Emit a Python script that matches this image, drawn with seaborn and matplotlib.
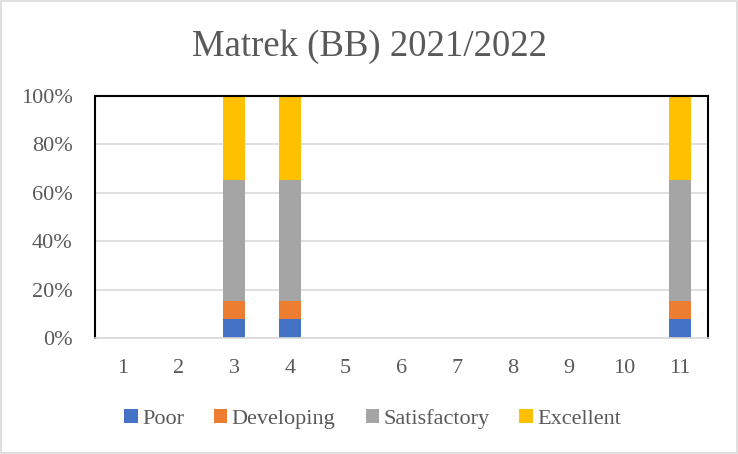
import pandas as pd
import numpy as np
import matplotlib
matplotlib.use("Agg")
import matplotlib.pyplot as plt
import seaborn as sns
from matplotlib.patches import Patch

# Share of students in each rating band, per item (out of 26)
items = [str(i) for i in range(1, 12)]
poor = [0, 0, 2, 2, 0, 0, 0, 0, 0, 0, 2]
developing = [0, 0, 2, 2, 0, 0, 0, 0, 0, 0, 2]
satisfactory = [0, 0, 13, 13, 0, 0, 0, 0, 0, 0, 13]
excellent = [0, 0, 9, 9, 0, 0, 0, 0, 0, 0, 9]
levels = ["Poor", "Developing", "Satisfactory", "Excellent"]
colors = ["#4472C4", "#ED7D31", "#A5A5A5", "#FFC000"]

df = pd.DataFrame({"item": items, "Poor": poor, "Developing": developing,
                   "Satisfactory": satisfactory, "Excellent": excellent})
totals = df[levels].sum(axis=1).replace(0, np.nan)
pct = df[levels].div(totals, axis=0).fillna(0) * 100
cum = pct.cumsum(axis=1)
cum["item"] = df["item"]

sns.set_theme(style="white")
plt.rcParams["font.family"] = ["Liberation Serif", "DejaVu Serif"]
text_col = "#595959"

fig = plt.figure(figsize=(7.38, 4.54), dpi=100)
ax = fig.add_axes([0.1287, 0.2555, 0.8306, 0.533])

# draw the stack from the top layer down so each shorter bar covers the one behind
for lvl, col in reversed(list(zip(levels, colors))):
    sns.barplot(data=cum, x="item", y=lvl, color=col, width=0.4,
                order=items, ax=ax, saturation=1, linewidth=0)

ax.set_ylim(0, 100)
ax.set_xlim(-0.5, 10.5)
ax.set_yticks([0, 20, 40, 60, 80, 100])
ax.set_yticklabels([f"{v}%" for v in range(0, 101, 20)])
ax.yaxis.grid(True, color="#D9D9D9", linewidth=1.2)
ax.set_axisbelow(True)
ax.set_xlabel("")
ax.set_ylabel("")
ax.tick_params(axis="both", length=0, labelsize=16, labelcolor=text_col)
ax.tick_params(axis="x", pad=15)
ax.tick_params(axis="y", pad=16)

for side in ["left", "top", "right"]:
    ax.spines[side].set_color("black")
    ax.spines[side].set_linewidth(1.5)
ax.spines["bottom"].set_color("#D9D9D9")
ax.spines["bottom"].set_linewidth(1.2)

fig.suptitle("Matrek (BB) 2021/2022", y=0.935, fontsize=26.5, color=text_col)

handles = [Patch(facecolor=c, edgecolor="none") for c in colors]
fig.legend(handles, levels, loc="center", bbox_to_anchor=(0.505, 0.078), ncol=4,
           frameon=False, fontsize=16, labelcolor=text_col,
           handlelength=0.6, handleheight=0.6, handletextpad=0.2,
           columnspacing=1.35)

# light frame around the whole chart
fig.patches.append(plt.Rectangle((0.002, 0.003), 0.996, 0.994, transform=fig.transFigure,
                                 fill=False, edgecolor="#D9D9D9", linewidth=1.2))

fig.savefig("out.png", dpi=100)
